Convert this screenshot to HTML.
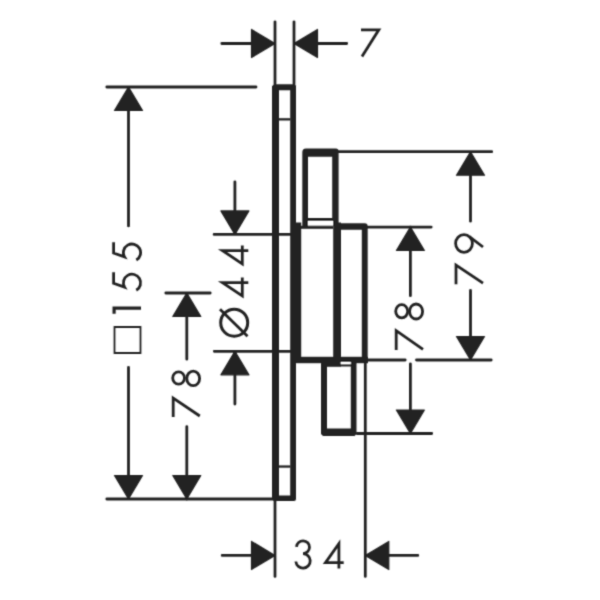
<!DOCTYPE html>
<html><head><meta charset="utf-8"><style>
html,body{margin:0;padding:0;background:#fff;width:600px;height:600px;overflow:hidden;font-family:"Liberation Sans",sans-serif;}
svg{display:block}
</style></head><body>
<svg width="600" height="600" viewBox="0 0 600 600">
<defs><filter id="bl" x="0" y="0" width="600" height="600" filterUnits="userSpaceOnUse"><feConvolveMatrix order="3" kernelMatrix="1 4 1 4 16 4 1 4 1" divisor="36" edgeMode="none"/></filter></defs><rect width="600" height="600" fill="#fff"/><g filter="url(#bl)">
<g fill="none" stroke="#222" stroke-width="2.8" stroke-linecap="round">
  <!-- top 7 dim -->
  <path d="M275,21.8V84 M294,21.8V84 M221.8,43.5H275 M294,43.5H346.7"/>
  <!-- 155 dim -->
  <path d="M106.8,87H256 M128.5,87V225.9 M128.5,367.3V499 M106.8,499H272"/>
  <!-- lower left 78 -->
  <path d="M165.8,293H210.2 M186.8,293V359.2 M186.8,426.6V499"/>
  <!-- O44 -->
  <path d="M214.1,234.4H291 M214.3,351.3H291 M234.9,181.8V234.4 M234.9,351.3V404"/>
  <!-- right 78 -->
  <path d="M367,227.1H431.2 M357,433.5H431.7 M410.4,227V295.7 M410.4,363.8V433.5"/>
  <!-- 79 -->
  <path d="M338,151.7H491.7 M368,360H405.2 M416.5,360H491.2 M470.5,151.7V221.2 M470.5,290.5V360"/>
  <!-- 34 -->
  <path d="M275,501V576.4 M365.3,362V576.4 M222.2,555.4H275 M365.3,555.4H417.8"/>
</g>
<g fill="#222" stroke="none">
  <!-- arrows -->
<g stroke="#222" stroke-width="1.2" stroke-linejoin="round">
  <path d="M275.0,43.5L251.5,29.5L251.5,57.5Z"/>
  <path d="M294.0,43.5L317.5,29.5L317.5,57.5Z"/>
  <path d="M128.5,87.0L114.5,110.5L142.5,110.5Z"/>
  <path d="M128.5,499.0L114.5,475.5L142.5,475.5Z"/>
  <path d="M186.8,293.0L172.8,316.5L200.8,316.5Z"/>
  <path d="M186.8,499.0L172.8,475.5L200.8,475.5Z"/>
  <path d="M234.9,234.4L220.9,210.9L248.9,210.9Z"/>
  <path d="M234.9,351.3L220.9,374.8L248.9,374.8Z"/>
  <path d="M410.4,227.0L396.4,250.5L424.4,250.5Z"/>
  <path d="M410.4,433.5L396.4,410.0L424.4,410.0Z"/>
  <path d="M470.5,151.7L456.5,175.2L484.5,175.2Z"/>
  <path d="M470.5,360.0L456.5,336.5L484.5,336.5Z"/>
  <path d="M275.0,555.4L251.5,541.4L251.5,569.4Z"/>
  <path d="M365.3,555.4L388.8,541.4L388.8,569.4Z"/>
</g>
  <!-- plate -->
  <path fill-rule="evenodd" d="M274,84.3H294Q296,84.3 296,86V499Q296,501 294,501H274Q272,501 272,499V86.3Z M279,90.3V495.5H290.2V90.3Z"/>
  <rect x="279" y="118.2" width="11.2" height="2.3"/>
  <rect x="279" y="465.4" width="11.2" height="2.3"/>
  <!-- upper knob -->
  <path fill-rule="evenodd" d="M306,148.5H335.8Q338.6,148.5 338.6,151.3V226H302.3V152.3Q302.3,148.5 306,148.5Z M308,156.7V218H332.2V156.7Z"/>
  <rect x="308" y="221" width="25" height="4.8" fill="#fff"/>
  <rect x="301" y="225.8" width="32" height="3"/>
  <!-- middle body -->
  <rect x="291" y="222.5" width="10.2" height="140"/>
  <rect x="333.2" y="222.5" width="7.8" height="137"/>
  <path d="M339,223.2H364.7Q367.7,223.2 367.7,226.2V358.8H361.8V229.7H339Z"/>
  <rect x="291" y="356.8" width="77" height="6.4"/>
  <rect x="321" y="357" width="20" height="9.6"/>
  <!-- lower knob -->
  <path fill-rule="evenodd" d="M321,358H356.5V434L354.5,436H323L321,434Z M327,366.6V428.5H350.8V366.6Z"/>
  <rect x="340.7" y="362" width="10.1" height="2.3" fill="#fff"/>
</g>
<!-- text -->
<g fill="none" stroke="#222" stroke-width="2.8" stroke-linecap="butt" stroke-linejoin="miter">
  <!-- 7 top -->
  <path d="M361,29.8H378.8L362,56.5"/>
  <!-- 155: 5,5,1, square -->
  <path d="M113.6,242.3V253L124.55,256.9A8.6,8.6 0 1 1 136.3,260.05"/>
  <path d="M113.6,272.3V283.2L124.55,287.1A8.6,8.6 0 1 1 136.3,290.25"/>
  <path d="M141,308.1H114.1V313.8" stroke-width="3.2"/>
  <!-- 78 lower left -->
  <ellipse cx="178.6" cy="378" rx="5.9" ry="6.2"/>
  <ellipse cx="193.2" cy="378.4" rx="6.4" ry="7.3"/>
  <path d="M173.2,417.1V398.2L199.8,416"/>
  <!-- 44 -->
  <path d="M248.3,250.6H222.5L242.3,263.8V245.4"/>
  <path d="M248.3,282.6H222.5L242.3,295.8V277.4"/>
  <circle cx="234.2" cy="322.7" r="13.5" stroke-width="3"/>
  <path d="M220,309.2L247.5,336.2"/>
  <!-- right 78 -->
  <ellipse cx="401.7" cy="311.3" rx="6" ry="6.6"/>
  <ellipse cx="416.1" cy="311.5" rx="6.5" ry="7.5"/>
  <path d="M396.2,350V330.7L423,349.3"/>
  <!-- 79 -->
  <ellipse cx="464" cy="243.5" rx="8.4" ry="8.8"/>
  <path d="M469.4,236.6L483,247"/>
  <path d="M456,284.3V265.2L483,283.2"/>
  <!-- 34 -->
  <path d="M296.5,546.8 A6.5,6.4 0 1 1 303,553.6 A7.2,7.25 0 1 1 295.85,561.5"/>
  <path d="M343.7,562.6H325.5L338.9,543.7V568.5"/>
</g>
<path d="M114.5,327H140.5V353H114.5Z" fill="none" stroke="#222" stroke-width="1.8"/>
</g></svg>
</body></html>
